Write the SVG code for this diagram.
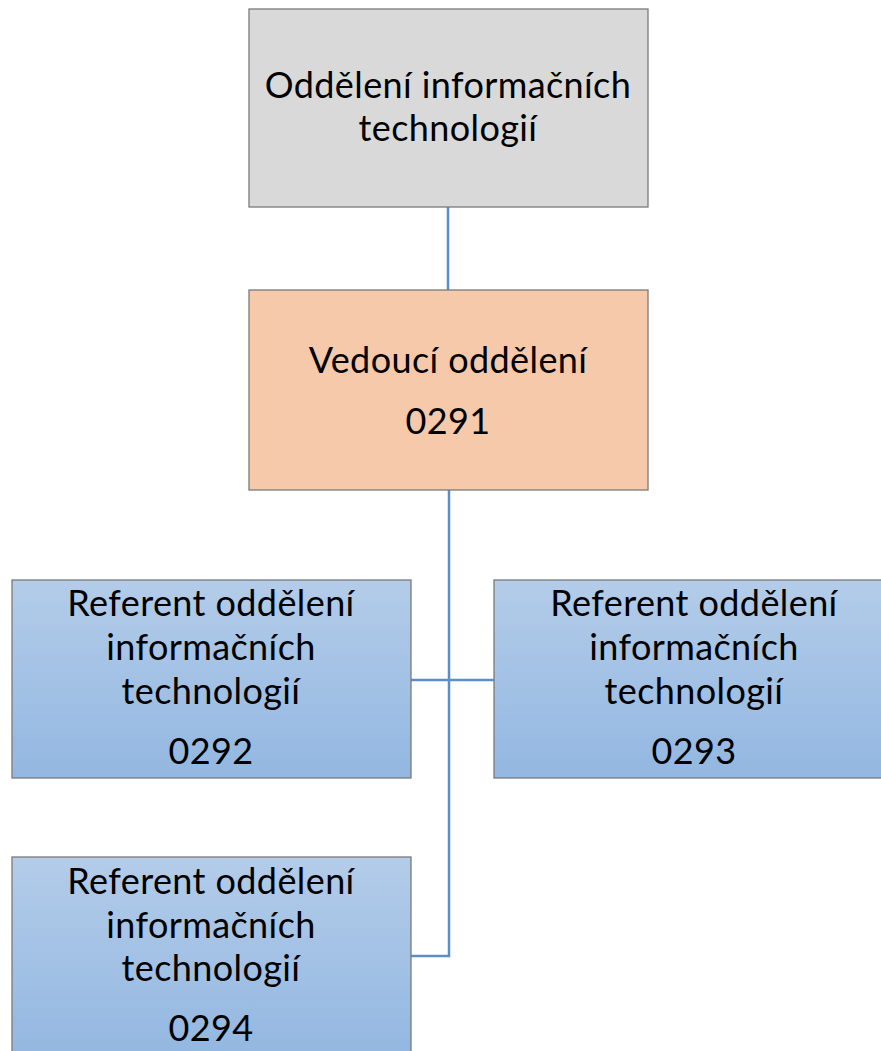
<svg xmlns="http://www.w3.org/2000/svg" width="881" height="1051" viewBox="0 0 881 1051">
<style>
.box{stroke:#7a7a7a;stroke-width:1.3}
.t{font-family:Lato,"Liberation Sans",sans-serif;font-size:36px;letter-spacing:0.4px;fill:#000;text-anchor:middle}
.c{fill:none;stroke:#5b8ec6;stroke-width:2.5}
</style>
<defs>
<linearGradient id="blue" x1="0" y1="0" x2="0" y2="1">
<stop offset="0" stop-color="#b3cce9"/>
<stop offset="1" stop-color="#93b7e1"/>
</linearGradient>
</defs>
<rect width="881" height="1051" fill="#fff"/>
<g id="connectors">
<line class="c" x1="448" y1="207" x2="448" y2="290"/>
<path class="c" d="M449 490 V956 H411"/>
<line class="c" x1="411" y1="680" x2="494" y2="680"/>
</g>
<g id="n1">
<rect class="box" x="249" y="9" width="399" height="198" fill="#d9d9d9"/>
<text class="t" x="448" y="98">Oddělení informačních</text>
<text class="t" x="448" y="141">technologií</text>
</g>
<g id="n2">
<rect class="box" x="249" y="290" width="399" height="200" fill="#f5c9a9"/>
<text class="t" x="448" y="373">Vedoucí oddělení</text>
<text class="t" x="448" y="434">0291</text>
</g>
<g id="n3">
<rect class="box" x="12" y="580" width="399" height="198" fill="url(#blue)"/>
<text class="t" x="211" y="616">Referent oddělení</text>
<text class="t" x="211" y="660">informačních</text>
<text class="t" x="211" y="704">technologií</text>
<text class="t" x="211" y="764">0292</text>
</g>
<g id="n4">
<rect class="box" x="494" y="580" width="400" height="198" fill="url(#blue)"/>
<text class="t" x="694" y="616">Referent oddělení</text>
<text class="t" x="694" y="660">informačních</text>
<text class="t" x="694" y="704">technologií</text>
<text class="t" x="694" y="764">0293</text>
</g>
<g id="n5">
<rect class="box" x="12" y="857" width="399" height="200" fill="url(#blue)"/>
<text class="t" x="211" y="894">Referent oddělení</text>
<text class="t" x="211" y="938">informačních</text>
<text class="t" x="211" y="981">technologií</text>
<text class="t" x="211" y="1041">0294</text>
</g>
</svg>
